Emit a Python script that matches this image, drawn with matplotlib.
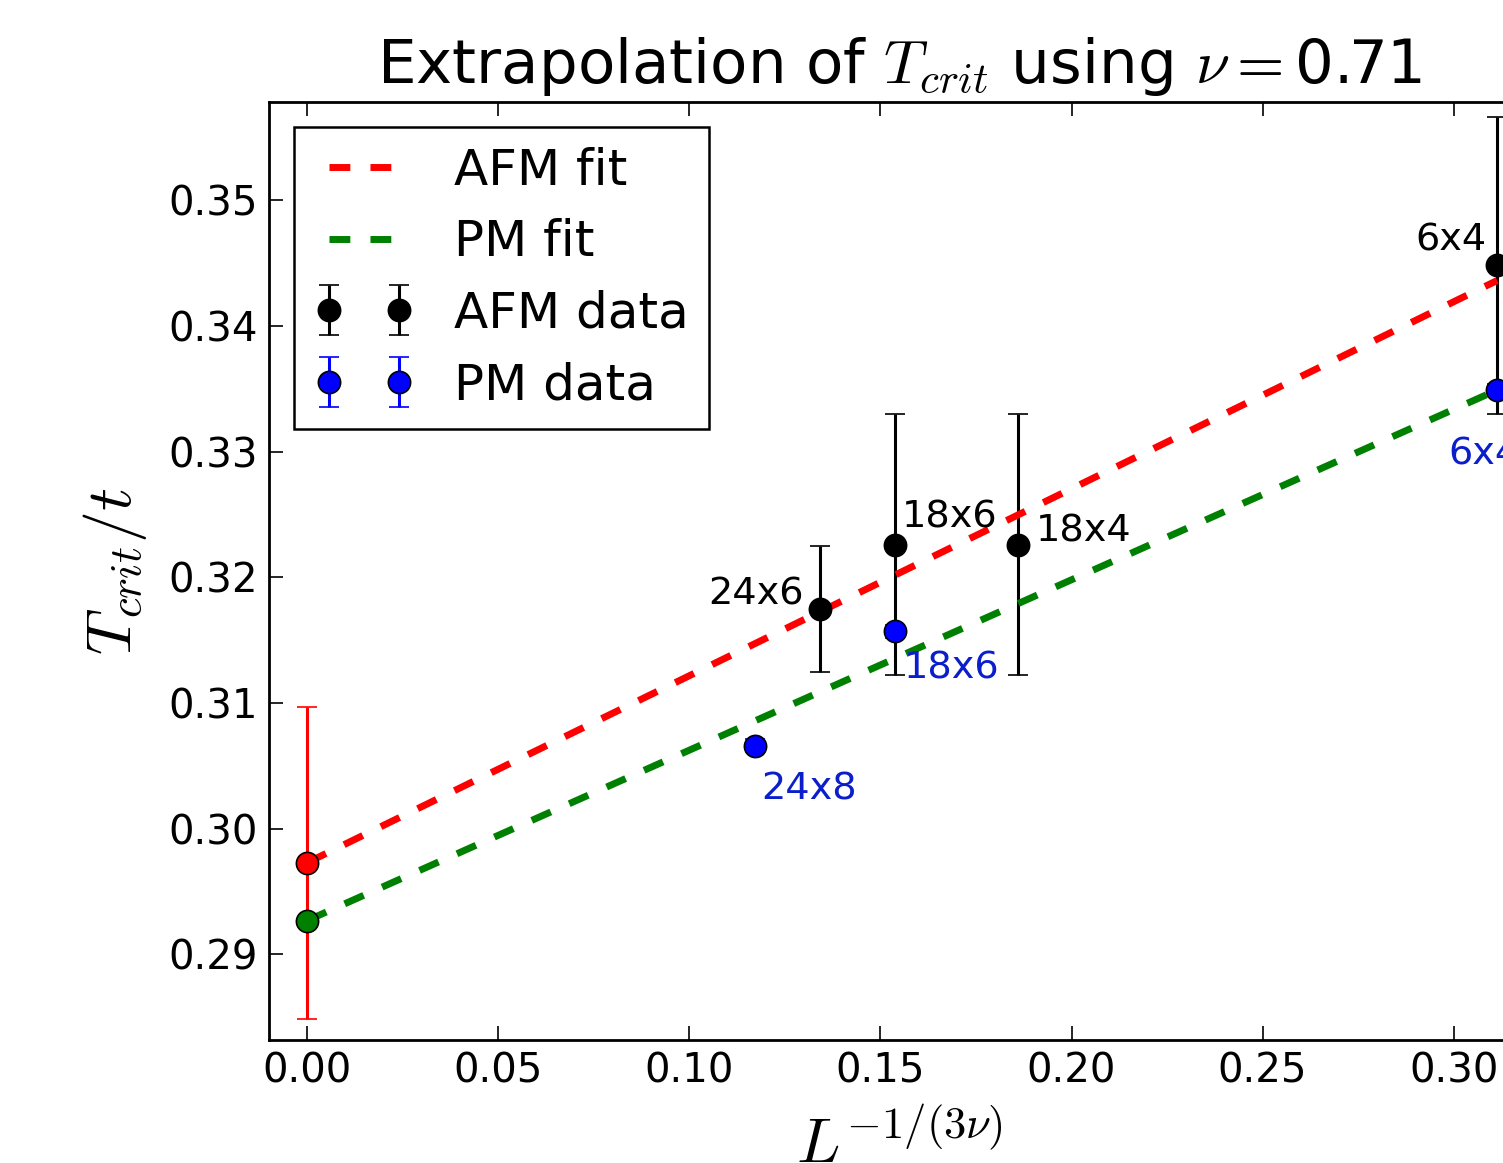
import numpy as np
import matplotlib
matplotlib.use('Agg')
import matplotlib.pyplot as plt
from matplotlib.ticker import MultipleLocator

plt.rcParams['mathtext.fontset'] = 'cm'
plt.rcParams['font.family'] = ['DejaVu Sans']

# AFM data, x = L^(-1/(3 nu))
afm_labels = ['24x6', '18x6', '18x4', '6x4']
afm_x = [0.1343, 0.1537, 0.1859, 0.3114]
afm_y = [0.3175, 0.3226, 0.3226, 0.3448]
afm_err = [0.0050, 0.0104, 0.0104, 0.0118]

# PM data
pm_labels = ['24x8', '18x6', '6x4']
pm_x = [0.1173, 0.1537, 0.3114]
pm_y = [0.3066, 0.3157, 0.3349]
pm_err = [0.0005, 0.0005, 0.0005]

# linear fits: slope, intercept
afm_slope, afm_icpt = 0.1487, 0.2973
pm_slope, pm_icpt = 0.1355, 0.2927
afm_icpt_err = 0.0124

# label offsets in points (not data)
afm_off = [(-12, 3, 'right'), (5, 12, 'left'), (13, 2, 'left'), (-8, 11, 'right')]
pm_off = [(4, -39, 'left'), (7, -34, 'left'), (-35, -54, 'left')]

fig = plt.figure(figsize=(15.03, 11.63), dpi=100)
ax = fig.add_axes([0.179, 0.1058, 1.018 - 0.179, 0.9123 - 0.1058])

eb_kw = dict(fmt='o', ms=16, mec='k', mew=1.2, elinewidth=2.2, capsize=7, capthick=2.2)
h_afm = ax.errorbar(afm_x, afm_y, yerr=afm_err, color='k', mfc='k', **eb_kw)
h_pm = ax.errorbar(pm_x, pm_y, yerr=pm_err, color='b', mfc='b', **eb_kw)

xs = np.linspace(0, max(afm_x), 100)
l_afm, = ax.plot(xs, afm_slope * xs + afm_icpt, '--', color='r', lw=5, dashes=(3.0, 2.9))
l_pm, = ax.plot(xs, pm_slope * xs + pm_icpt, '--', color='g', lw=5, dashes=(3.0, 2.9))

ax.errorbar([0], [afm_icpt], yerr=[afm_icpt_err], color='r', mfc='r', **eb_kw)
ax.plot([0], [pm_icpt], 'o', color='g', ms=16, mec='k', mew=1.2)

for lab, x, y, (dx, dy, ha) in zip(afm_labels, afm_x, afm_y, afm_off):
    ax.annotate(lab, (x, y), xytext=(dx, dy), textcoords='offset points',
                ha=ha, va='baseline', fontsize=27.5, color='k')
for lab, x, y, (dx, dy, ha) in zip(pm_labels, pm_x, pm_y, pm_off):
    ax.annotate(lab, (x, y), xytext=(dx, dy), textcoords='offset points',
                ha=ha, va='baseline', fontsize=27.5, color='#0a1ecc')

ax.set_xlim(-0.01, 0.32)
ax.set_ylim(0.2832, 0.3578)
ax.xaxis.set_major_locator(MultipleLocator(0.05))
ax.yaxis.set_major_locator(MultipleLocator(0.01))
ax.tick_params(direction='in', length=10, width=1.2, top=True, right=True,
               labelsize=29, pad=8)
for s in ax.spines.values():
    s.set_linewidth(2)

ax.set_title(r'Extrapolation of $T_{crit}$ using $\nu=$0.71', fontsize=44, pad=14)
ax.set_xlabel(r'$L^{-1/(3\nu)}$', fontsize=46, labelpad=16)
ax.set_ylabel(r'$T_{crit}/t$', fontsize=46, labelpad=14)

leg = ax.legend([l_afm, l_pm, h_afm, h_pm], ['AFM fit', 'PM fit', 'AFM data', 'PM data'],
                loc='upper left', fontsize=36, numpoints=2, fancybox=False,
                edgecolor='k', framealpha=1, labelspacing=0.47, borderpad=0.4)
leg.get_frame().set_linewidth(1.8)

fig.savefig('out.png', dpi=100)
